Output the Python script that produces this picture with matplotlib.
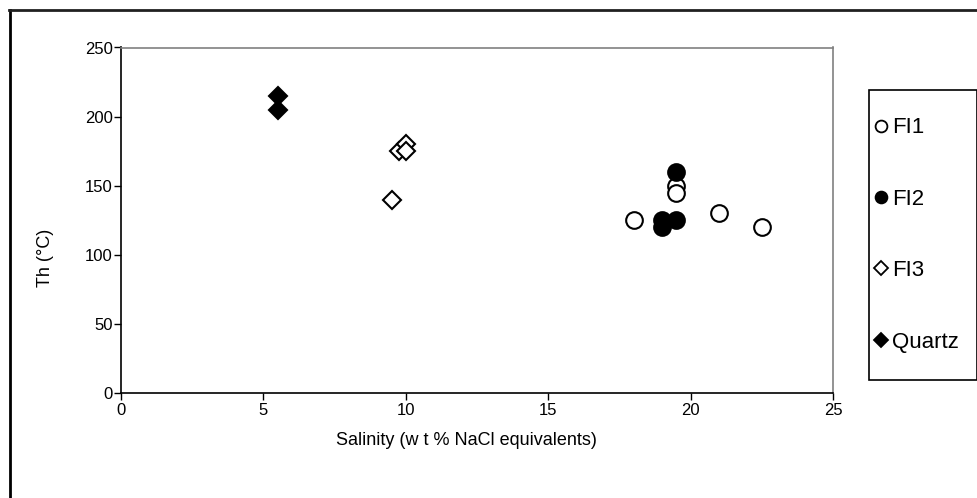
import matplotlib
matplotlib.use("Agg")
import matplotlib.pyplot as plt
from matplotlib.lines import Line2D
from matplotlib.patches import Rectangle

plt.rcParams['font.family'] = ['Liberation Sans', 'DejaVu Sans']

fi1_x = [18.0, 19.5, 19.5, 21.0, 22.5]
fi1_y = [125, 150, 145, 130, 120]
fi2_x = [19.5, 19.0, 19.0, 19.5]
fi2_y = [160, 125, 120, 125]
fi3_x = [9.5, 9.75, 10.0, 10.0]
fi3_y = [140, 175, 180, 175]
qz_x = [5.5, 5.5]
qz_y = [215, 205]

xticks = [0, 5, 10, 15, 20, 25]
yticks = [0, 50, 100, 150, 200, 250]

fig = plt.figure(figsize=(9.78, 4.98), dpi=100)
ax = fig.add_axes([121/978, 1-393/498, (833-121)/978, (393-47.5)/498])

ax.plot(fi1_x, fi1_y, 'o', ms=12, mfc='white', mec='black', mew=1.5, label='FI1', ls='none')
ax.plot(fi2_x, fi2_y, 'o', ms=12, mfc='black', mec='black', mew=1.5, label='FI2', ls='none')
ax.plot(fi3_x, fi3_y, 'D', ms=9, mfc='white', mec='black', mew=1.5, label='FI3', ls='none')
ax.plot(qz_x, qz_y, 'D', ms=9, mfc='black', mec='black', mew=1.5, label='Quartz', ls='none')

ax.set_xlim(0, 25)
ax.set_ylim(0, 250)
ax.set_xticks(xticks)
ax.set_yticks(yticks)
ax.tick_params(direction='out', length=5, width=1, labelsize=12, colors='black')
ax.tick_params(axis='y', pad=1)
ax.tick_params(axis='x', pad=2.5)
for s in ['top', 'right']:
    ax.spines[s].set_color('#808080')
for s in ['left', 'bottom']:
    ax.spines[s].set_color('black')
for s in ax.spines.values():
    s.set_linewidth(1.2)

ax.set_xlabel('Salinity (w t % NaCl equivalents)', fontsize=13)
ax.set_ylabel('Th (°C)', fontsize=13)
ax.xaxis.set_label_coords((466-121)/712, -0.113)
ax.yaxis.set_label_coords((54-121)/712, (393-258)/345.5)

handles = [
    Line2D([], [], marker='o', ls='none', ms=8.5, mfc='white', mec='black', mew=1.3),
    Line2D([], [], marker='o', ls='none', ms=8.5, mfc='black', mec='black', mew=1.3),
    Line2D([], [], marker='D', ls='none', ms=7, mfc='white', mec='black', mew=1.3),
    Line2D([], [], marker='D', ls='none', ms=7, mfc='black', mec='black', mew=1.3),
]
leg = fig.legend(handles, ['FI1', 'FI2', 'FI3', 'Quartz'], loc='center left',
                 bbox_to_anchor=(874/978, 1-235/498), fontsize=16, frameon=False,
                 labelspacing=2.27, handlelength=0.6, handletextpad=0.2,
                 borderpad=0, borderaxespad=0)

fig.add_artist(Rectangle((869/978, 1-380/498), (977-869)/978, (380-90)/498,
                         transform=fig.transFigure, fill=False, edgecolor='black', lw=1.2))
fig.add_artist(Line2D([9.5/978, 9.5/978], [0, 1-10/498], transform=fig.transFigure, color='black', lw=2))
fig.add_artist(Line2D([9/978, 1], [1-10/498, 1-10/498], transform=fig.transFigure, color='#202020', lw=2))

fig.savefig('out.png', dpi=100)
